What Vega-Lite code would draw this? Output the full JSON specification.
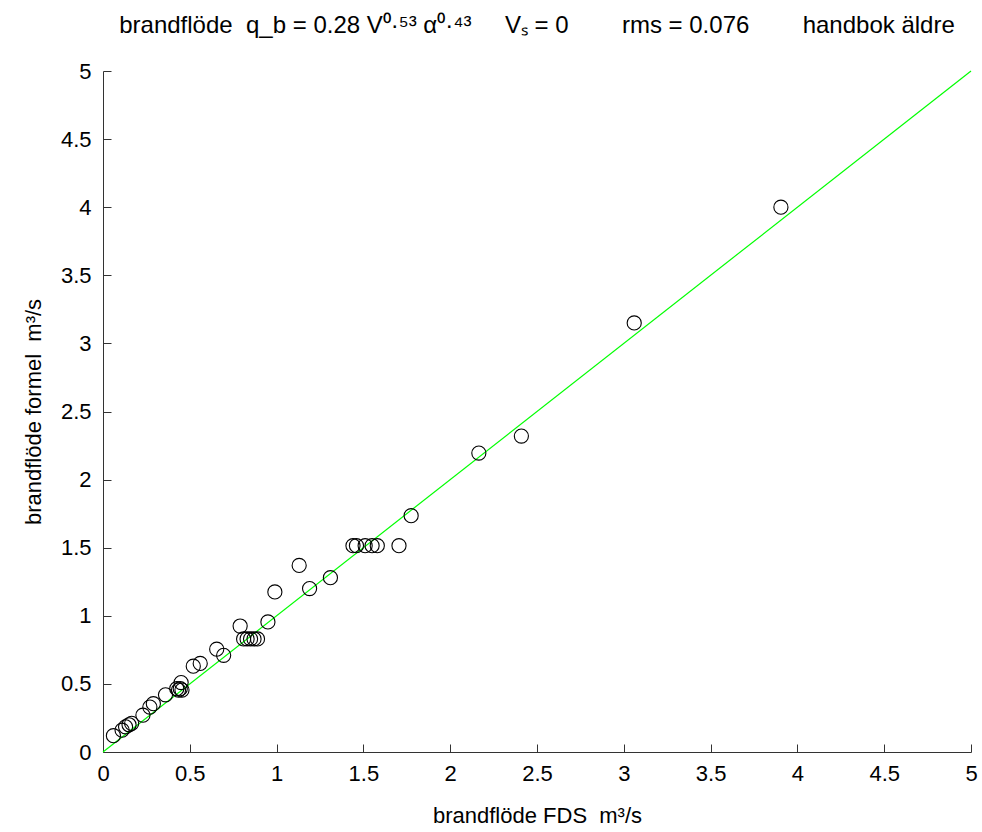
{
  "$schema": "https://vega.github.io/schema/vega-lite/v6.json",
  "width": 868,
  "height": 681,
  "autosize": "none",
  "padding": {"left": 103, "top": 71, "right": 11, "bottom": 80},
  "background": "white",
  "config": {"view": {"stroke": null}, "font": "Liberation Sans"},
  "title": {
    "text": "brandflöde\u00a0\u00a0q_b = 0.28 V⁰·⁵³ α⁰·⁴³\u00a0\u00a0\u00a0\u00a0\u00a0Vₛ = 0\u00a0\u00a0\u00a0\u00a0\u00a0\u00a0\u00a0\u00a0rms = 0.076\u00a0\u00a0\u00a0\u00a0\u00a0\u00a0\u00a0\u00a0handbok äldre",
    "fontSize": 24,
    "fontWeight": "normal",
    "font": "Liberation Sans",
    "color": "black",
    "anchor": "middle",
    "offset": 22
  },
  "datasets": {
    "pts": [
      {"fds": 0.06, "formel": 0.12},
      {"fds": 0.11, "formel": 0.16},
      {"fds": 0.13, "formel": 0.185},
      {"fds": 0.15, "formel": 0.2},
      {"fds": 0.165, "formel": 0.21},
      {"fds": 0.23, "formel": 0.27},
      {"fds": 0.27, "formel": 0.33},
      {"fds": 0.29, "formel": 0.355},
      {"fds": 0.36, "formel": 0.42},
      {"fds": 0.425, "formel": 0.465},
      {"fds": 0.435, "formel": 0.455},
      {"fds": 0.445, "formel": 0.465},
      {"fds": 0.455, "formel": 0.455},
      {"fds": 0.45, "formel": 0.51},
      {"fds": 0.52, "formel": 0.63},
      {"fds": 0.56, "formel": 0.65},
      {"fds": 0.655, "formel": 0.755},
      {"fds": 0.695, "formel": 0.71},
      {"fds": 0.79, "formel": 0.925},
      {"fds": 0.81, "formel": 0.83},
      {"fds": 0.83, "formel": 0.83},
      {"fds": 0.85, "formel": 0.83},
      {"fds": 0.87, "formel": 0.83},
      {"fds": 0.89, "formel": 0.83},
      {"fds": 0.95, "formel": 0.955},
      {"fds": 0.99, "formel": 1.175},
      {"fds": 1.13, "formel": 1.37},
      {"fds": 1.19, "formel": 1.2},
      {"fds": 1.31, "formel": 1.28},
      {"fds": 1.44, "formel": 1.515},
      {"fds": 1.46, "formel": 1.515},
      {"fds": 1.51, "formel": 1.515},
      {"fds": 1.55, "formel": 1.515},
      {"fds": 1.58, "formel": 1.515},
      {"fds": 1.705, "formel": 1.515},
      {"fds": 1.775, "formel": 1.735},
      {"fds": 2.165, "formel": 2.195},
      {"fds": 2.41, "formel": 2.32},
      {"fds": 3.06, "formel": 3.15},
      {"fds": 3.905, "formel": 4.0}
    ],
    "diag": [
      {"fds": 0, "formel": 0},
      {"fds": 5, "formel": 5}
    ]
  },
  "resolve": {"axis": {"x": "independent", "y": "independent"}},
  "layer": [
    {
      "data": {"name": "diag"},
      "mark": {"type": "line", "color": "#00ff00", "strokeWidth": 1.2},
      "encoding": {
        "x": {
          "field": "fds",
          "type": "quantitative",
          "scale": {"domain": [0, 5], "nice": false, "zero": false},
          "axis": {
            "orient": "bottom",
            "title": "brandflöde FDS\u00a0\u00a0m³/s",
            "values": [0, 0.5, 1, 1.5, 2, 2.5, 3, 3.5, 4, 4.5, 5],
            "format": "~g",
            "grid": false,
            "ticks": false,
            "domainColor": "#333",
            "labelPadding": 11,
            "labelFontSize": 22,
            "labelColor": "black",
            "labelFont": "Liberation Sans",
            "labelFlush": false,
            "labelOverlap": false,
            "titleFontSize": 22,
            "titleFontWeight": "normal",
            "titleColor": "black",
            "titleFont": "Liberation Sans",
            "titlePadding": 21
          }
        },
        "y": {
          "field": "formel",
          "type": "quantitative",
          "scale": {"domain": [0, 5], "nice": false, "zero": false},
          "axis": {
            "orient": "left",
            "title": "brandflöde formel\u00a0\u00a0m³/s",
            "values": [0, 0.5, 1, 1.5, 2, 2.5, 3, 3.5, 4, 4.5, 5],
            "format": "~g",
            "grid": false,
            "ticks": false,
            "domainColor": "#333",
            "labelPadding": 12,
            "labelFontSize": 22,
            "labelColor": "black",
            "labelFont": "Liberation Sans",
            "labelFlush": false,
            "labelOverlap": false,
            "titleFontSize": 22,
            "titleFontWeight": "normal",
            "titleColor": "black",
            "titleFont": "Liberation Sans",
            "titlePadding": 15
          }
        }
      }
    },
    {
      "data": {"name": "pts"},
      "mark": {"type": "point", "shape": "circle", "filled": false, "color": "black", "size": 200, "strokeWidth": 1.1, "opacity": 1},
      "encoding": {
        "x": {
          "field": "fds",
          "type": "quantitative",
          "scale": {"domain": [0, 5], "nice": false, "zero": false},
          "axis": {
            "orient": "top",
            "offset": -681,
            "title": null,
            "values": [0, 0.5, 1, 1.5, 2, 2.5, 3, 3.5, 4, 4.5, 5],
            "labels": false,
            "domain": false,
            "grid": false,
            "ticks": true,
            "tickSize": 8,
            "tickColor": "#333"
          }
        },
        "y": {
          "field": "formel",
          "type": "quantitative",
          "scale": {"domain": [0, 5], "nice": false, "zero": false},
          "axis": {
            "orient": "right",
            "offset": -868,
            "title": null,
            "values": [0, 0.5, 1, 1.5, 2, 2.5, 3, 3.5, 4, 4.5, 5],
            "labels": false,
            "domain": false,
            "grid": false,
            "ticks": true,
            "tickSize": 8,
            "tickColor": "#333"
          }
        }
      }
    }
  ]
}
